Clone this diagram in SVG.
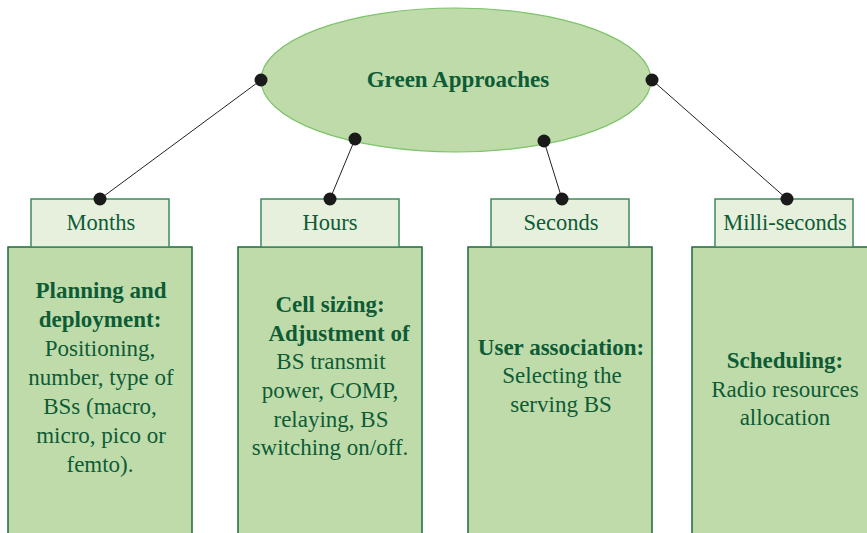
<svg xmlns="http://www.w3.org/2000/svg" width="867" height="533" viewBox="0 0 867 533">
<style>
text{font-family:"Liberation Serif","Times New Roman","DejaVu Serif",serif;fill:#0d5c36;text-anchor:middle}
.t{font-size:23px;font-weight:bold}
.lb{font-size:22.5px}
.b{font-size:23px;font-weight:bold}
.n{font-size:23px}
.lbox{fill:#e7efdd;stroke:#3f8a60;stroke-width:1.5}
.box{fill:#c0dbaa;stroke:#1d6b3e;stroke-width:1.5}
.ln{stroke:#222;stroke-width:1;fill:none}
.dot{fill:#1a1a1a}
</style>
<rect width="867" height="533" fill="#fff"/>
<g id="root">
<ellipse cx="456" cy="80" rx="195" ry="72" fill="#bfdbaa" stroke="#7cc46a" stroke-width="1.2"/>
<text class="t" x="458" y="87">Green Approaches</text>
</g>
<g id="months">
<rect class="box" x="8" y="247" width="184" height="290"/>
<rect class="lbox" x="31" y="199" width="138" height="48"/>
<text class="lb" x="101" y="230">Months</text>
<text class="b" x="101" y="298">Planning and</text>
<text class="b" x="100" y="327">deployment:</text>
<text class="n" x="100" y="356">Positioning,</text>
<text class="n" x="101" y="385">number, type of</text>
<text class="n" x="100" y="414">BSs (macro,</text>
<text class="n" x="101" y="443">micro, pico or</text>
<text class="n" x="100" y="472">femto).</text>
</g>
<g id="hours">
<rect class="box" x="238" y="247" width="184" height="290"/>
<rect class="lbox" x="261" y="199" width="138" height="48"/>
<text class="lb" x="330" y="230">Hours</text>
<text class="b" x="330" y="312">Cell sizing:</text>
<text class="b" x="339" y="341">Adjustment of</text>
<text class="n" x="331" y="369">BS transmit</text>
<text class="n" x="330" y="398">power, COMP,</text>
<text class="n" x="331" y="427">relaying, BS</text>
<text class="n" x="330" y="455">switching on/off.</text>
</g>
<g id="seconds">
<rect class="box" x="468" y="247" width="184" height="290"/>
<rect class="lbox" x="491" y="199" width="138" height="48"/>
<text class="lb" x="561" y="230">Seconds</text>
<text class="b" x="561" y="355">User association:</text>
<text class="n" x="562" y="383">Selecting the</text>
<text class="n" x="561" y="412">serving BS</text>
</g>
<g id="milliseconds">
<rect class="box" x="692" y="247" width="184" height="290"/>
<rect class="lbox" x="715" y="199" width="138" height="48"/>
<text class="lb" x="785" y="230">Milli-seconds</text>
<text class="b" x="785" y="368">Scheduling:</text>
<text class="n" x="785" y="397">Radio resources</text>
<text class="n" x="785" y="425">allocation</text>
</g>
<g id="connectors">
<line class="ln" x1="261" y1="80" x2="100" y2="199"/>
<line class="ln" x1="355" y1="139" x2="330" y2="199"/>
<line class="ln" x1="544" y1="141" x2="562" y2="199"/>
<line class="ln" x1="652" y1="80" x2="787" y2="199"/>
<circle class="dot" cx="261" cy="80" r="6.5"/>
<circle class="dot" cx="355" cy="139" r="6.5"/>
<circle class="dot" cx="544" cy="141" r="6.5"/>
<circle class="dot" cx="652" cy="80" r="6.5"/>
<circle class="dot" cx="100" cy="199" r="6.5"/>
<circle class="dot" cx="330" cy="199" r="6.5"/>
<circle class="dot" cx="562" cy="199" r="6.5"/>
<circle class="dot" cx="787" cy="199" r="6.5"/>
</g>
</svg>
